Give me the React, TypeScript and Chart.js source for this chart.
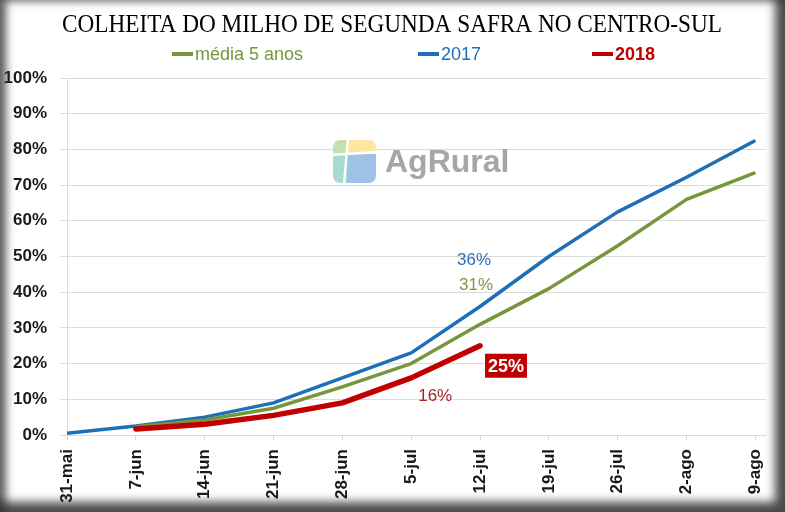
import React, { useEffect, useRef } from 'react';
import { Chart, registerables } from 'chart.js';

Chart.register(...registerables);

// ---- data ----
const categories = ['31-mai', '7-jun', '14-jun', '21-jun', '28-jun', '5-jul', '12-jul', '19-jul', '26-jul', '2-ago', '9-ago'];
const media5Anos: (number | null)[] = [null, 2.3, 4.2, 7.5, 13.5, 20, 31, 41, 53, 66, 73.5];
const safra2017: (number | null)[] = [0.5, 2.5, 5, 9, 16, 23, 36, 50, 62.5, 72.2, 82.5];
const safra2018: (number | null)[] = [null, 1.7, 3, 5.5, 9, 16, 25, null, null, null, null];
const seriesNames = ['média 5 anos', '2017', '2018'];
const seriesColors = ['#77963c', '#1f6fb6', '#c00000'];
const titleText = 'COLHEITA DO MILHO DE SEGUNDA SAFRA NO CENTRO-SUL';
const watermarkText = 'AgRural';
// annotation labels: series index, category index, text
const annSeries = [1, 0, 2, 2];
const annIndex = [6, 6, 6, 5];
const annText = ['36%', '31%', '25%', '16%'];

const allSeries = [media5Anos, safra2017, safra2018];

function toPoints(arr: (number | null)[]) {
  const pts: { x: number; y: number }[] = [];
  arr.forEach((v, i) => {
    if (v !== null) pts.push({ x: i, y: v });
  });
  return pts;
}

const overlayPlugin = {
  id: 'overlay',
  beforeDatasetsDraw(chart: any) {
    const ctx = chart.ctx as CanvasRenderingContext2D;
    const ca = chart.chartArea;
    // watermark logo
    const lx = ca.left + 266;
    const ly = ca.top + 62;
    const s = 43;
    ctx.save();
    ctx.beginPath();
    const r = 8;
    ctx.moveTo(lx + r, ly);
    ctx.lineTo(lx + s - r, ly);
    ctx.quadraticCurveTo(lx + s, ly, lx + s, ly + r);
    ctx.lineTo(lx + s, ly + s - r);
    ctx.quadraticCurveTo(lx + s, ly + s, lx + s - r, ly + s);
    ctx.lineTo(lx + r, ly + s);
    ctx.quadraticCurveTo(lx, ly + s, lx, ly + s - r);
    ctx.lineTo(lx, ly + r);
    ctx.quadraticCurveTo(lx, ly, lx + r, ly);
    ctx.closePath();
    ctx.clip();
    ctx.fillStyle = '#c6dfb2';
    ctx.fillRect(lx, ly, 14, 14);
    ctx.fillStyle = '#fde7a0';
    ctx.fillRect(lx + 14, ly, s - 14, 14);
    ctx.fillStyle = '#a6dbd1';
    ctx.fillRect(lx, ly + 14, 14, s - 14);
    ctx.fillStyle = '#9fc3e6';
    ctx.fillRect(lx + 14, ly + 14, s - 14, s - 14);
    ctx.strokeStyle = '#ffffff';
    ctx.lineWidth = 2.5;
    ctx.beginPath();
    ctx.moveTo(lx + 15, ly - 2);
    ctx.lineTo(lx + 11, ly + s + 2);
    ctx.moveTo(lx - 2, ly + 15);
    ctx.lineTo(lx + s + 2, ly + 12);
    ctx.stroke();
    ctx.restore();

    ctx.save();
    ctx.fillStyle = '#a6a6a6';
    ctx.font = 'bold 32px "Liberation Sans", Arial, sans-serif';
    ctx.textBaseline = 'alphabetic';
    ctx.textAlign = 'left';
    ctx.fillText(watermarkText, lx + 52, ly + 32);
    ctx.restore();
  },
  afterDraw(chart: any) {
    const ctx = chart.ctx as CanvasRenderingContext2D;
    const xs = chart.scales.x;
    const ys = chart.scales.y;
    // title
    ctx.save();
    ctx.fillStyle = '#000000';
    ctx.font = '26px "Liberation Serif", "Times New Roman", serif';
    ctx.textBaseline = 'alphabetic';
    ctx.textAlign = 'center';
    const tw = ctx.measureText(titleText).width;
    const target = 660;
    ctx.translate(392, 32);
    ctx.scale(target / tw, 1);
    ctx.fillText(titleText, 0, 0);
    ctx.restore();

    // legend
    const legX = [172, 418, 592];
    ctx.save();
    ctx.textBaseline = 'middle';
    ctx.textAlign = 'left';
    seriesNames.forEach((name, i) => {
      ctx.strokeStyle = seriesColors[i];
      ctx.lineWidth = 4;
      ctx.beginPath();
      ctx.moveTo(legX[i], 54);
      ctx.lineTo(legX[i] + 21, 54);
      ctx.stroke();
      ctx.fillStyle = seriesColors[i];
      ctx.font = (i === 2 ? 'bold ' : '') + '18px "Liberation Sans", Arial, sans-serif';
      ctx.fillText(name, legX[i] + 23, 55);
    });
    ctx.restore();

    // annotations
    ctx.save();
    ctx.textBaseline = 'middle';
    ctx.textAlign = 'center';
    annText.forEach((t, k) => {
      const si = annSeries[k];
      const idx = annIndex[k];
      const v = allSeries[si][idx] as number;
      const px = xs.getPixelForValue(idx);
      const py = ys.getPixelForValue(v);
      ctx.font = '17px "Liberation Sans", Arial, sans-serif';
      if (k === 0) {
        ctx.fillStyle = '#2a72b5';
        ctx.fillText(t, px - 6, py - 46);
      } else if (k === 1) {
        ctx.fillStyle = '#7d9a3f';
        ctx.fillText(t, px - 4, py - 39);
      } else if (k === 2) {
        ctx.fillStyle = '#c00000';
        ctx.fillRect(px + 5, py + 8, 42, 24);
        ctx.fillStyle = '#ffffff';
        ctx.font = 'bold 18px "Liberation Sans", Arial, sans-serif';
        ctx.fillText(t, px + 26, py + 21);
      } else {
        ctx.fillStyle = '#a52323';
        ctx.fillText(t, px + 24, py + 18);
      }
    });
    ctx.restore();
  },
};

export default function App() {
  const canvasRef = useRef<HTMLCanvasElement | null>(null);

  useEffect(() => {
    document.body.style.margin = '0';
    const canvas = canvasRef.current;
    if (!canvas) return;
    const chart = new Chart(canvas, {
      type: 'line',
      data: {
        datasets: [
          {
            label: seriesNames[2],
            data: toPoints(safra2018),
            borderColor: seriesColors[2],
            backgroundColor: seriesColors[2],
            borderWidth: 5.5,
            borderCapStyle: 'round',
            borderJoinStyle: 'round',
            pointRadius: 0,
            order: 0,
          },
          {
            label: seriesNames[0],
            data: toPoints(media5Anos),
            borderColor: seriesColors[0],
            backgroundColor: seriesColors[0],
            borderWidth: 3.5,
            borderJoinStyle: 'round',
            pointRadius: 0,
            order: 1,
          },
          {
            label: seriesNames[1],
            data: toPoints(safra2017),
            borderColor: seriesColors[1],
            backgroundColor: seriesColors[1],
            borderWidth: 3.5,
            borderJoinStyle: 'round',
            pointRadius: 0,
            order: 2,
          },
        ],
      },
      options: {
        animation: false,
        responsive: true,
        maintainAspectRatio: false,
        layout: { padding: { top: 78, right: 15, bottom: 0, left: 3 } },
        plugins: {
          legend: { display: false },
          title: { display: false },
          tooltip: { enabled: false },
        },
        scales: {
          x: {
            type: 'linear',
            min: 0,
            max: 10.15,
            afterBuildTicks: (axis: any) => {
              axis.ticks = categories.map((_, i) => ({ value: i }));
            },
            afterFit: (axis: any) => {
              axis.height = 77;
            },
            ticks: {
              autoSkip: false,
              minRotation: 90,
              maxRotation: 90,
              padding: 9,
              color: '#1a1a1a',
              font: { family: '"Liberation Sans", Arial, sans-serif', size: 17, weight: 'bold' },
              callback: (v: any) => categories[v] ?? '',
            },
            grid: { drawOnChartArea: false, drawTicks: true, tickLength: 5, color: '#d9d9d9' },
            border: { color: '#d9d9d9', width: 1 },
          },
          y: {
            min: 0,
            max: 100,
            afterFit: (axis: any) => {
              axis.width = 64;
            },
            ticks: {
              stepSize: 10,
              padding: 13,
              color: '#1a1a1a',
              font: { family: '"Liberation Sans", Arial, sans-serif', size: 17, weight: 'bold' },
              callback: (v: any) => v + '%',
            },
            grid: { color: '#dcdcdc', tickLength: 7, drawTicks: true },
            border: { color: '#dcdcdc', width: 1 },
          },
        },
      },
      plugins: [overlayPlugin],
    } as any);
    return () => chart.destroy();
  }, []);

  return (
    <div style={{ position: 'relative', width: 785, height: 512, background: '#ffffff', overflow: 'hidden' }}>
      <canvas ref={canvasRef} width={785} height={512} style={{ display: 'block' }} />
      <div
        style={{
          position: 'absolute',
          inset: 0,
          pointerEvents: 'none',
          boxShadow:
            'inset 9px 4px 9px -3px rgba(50,50,50,0.8), inset -13px -13px 10px -3px rgba(45,45,45,0.85)',
        }}
      />
    </div>
  );
}
